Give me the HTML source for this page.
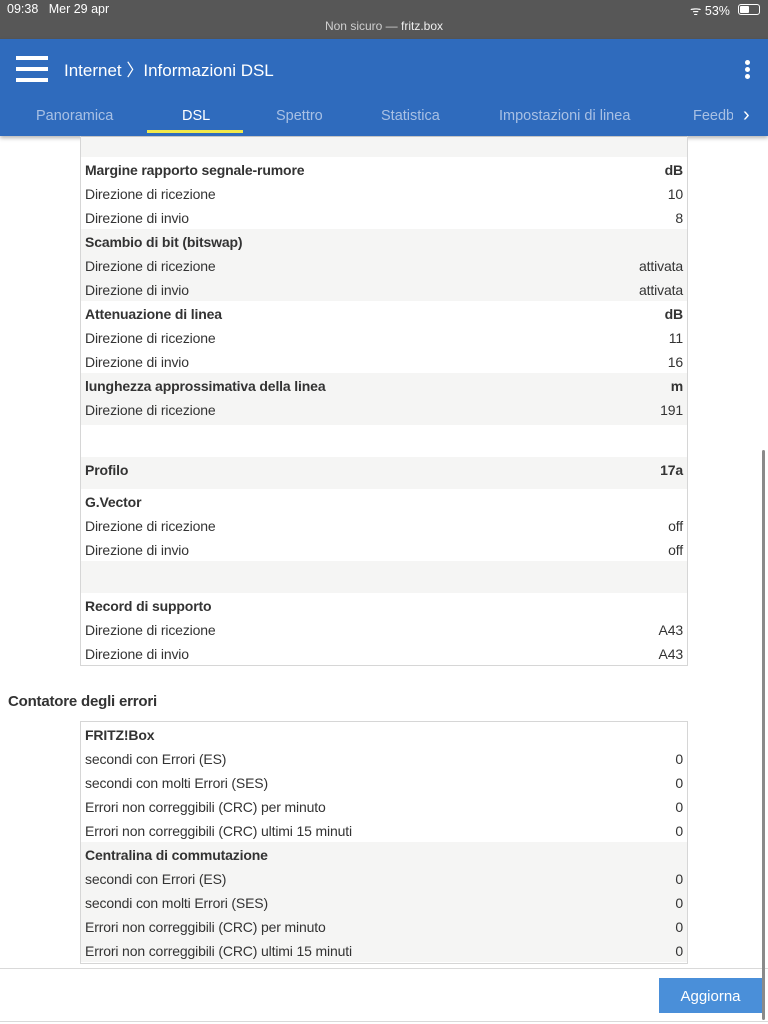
<!DOCTYPE html>
<html><head><meta charset="utf-8"><style>
*{margin:0;padding:0;box-sizing:border-box}
body{width:768px;height:1024px;overflow:hidden;background:#fff;font-family:"Liberation Sans",sans-serif;color:#333;position:relative}
.a{position:absolute}
.bg{position:absolute;left:81px;width:606px;background:#f5f5f4}
.r{position:absolute;left:85px;width:598px;height:24px;line-height:26px;font-size:14px;letter-spacing:-0.15px}
.r span{position:absolute;right:0;top:0}
.b{font-weight:bold}
</style></head><body>
<div class="a" style="left:0;top:0;width:768px;height:39px;background:#575757"></div>
<div class="a" style="left:7px;top:2px;font-size:12.5px;color:#fff">09:38&nbsp;&nbsp; Mer 29 apr</div>
<div class="a" style="left:0;top:19px;width:768px;text-align:center;font-size:12px;color:#cfcfcf">Non sicuro — <span style="color:#eee">fritz.box</span></div>
<div class="a" style="left:690px;top:2px;font-size:12.5px;color:#fff">ᯤ 53%</div>
<div class="a" style="left:738px;top:4px;width:22px;height:11px;border:1px solid #fff;border-radius:3px"><div style="width:9px;height:7px;margin:1px;background:#fff;border-radius:1px"></div></div>
<div class="a" style="left:0;top:39px;width:768px;height:97px;background:#2f6bbd;box-shadow:0 2px 4px rgba(0,0,0,.3)"></div>
<div class="a" style="left:16px;top:56px;width:32px;height:4px;background:#fff"></div>
<div class="a" style="left:16px;top:67px;width:32px;height:4px;background:#fff"></div>
<div class="a" style="left:16px;top:78px;width:32px;height:4px;background:#fff"></div>
<div class="a" style="left:64px;top:56px;font-size:17px;color:#fff">Internet 〉Informazioni DSL</div>
<div class="a" style="left:745px;top:60px;width:5px;height:5px;border-radius:50%;background:#fff"></div>
<div class="a" style="left:745px;top:67px;width:5px;height:5px;border-radius:50%;background:#fff"></div>
<div class="a" style="left:745px;top:74px;width:5px;height:5px;border-radius:50%;background:#fff"></div>
<div class="a" style="top:108px;left:0;width:768px;font-size:14.5px;color:#a8c0e4">
<span class="a" style="left:36px">Panoramica</span>
<span class="a" style="left:182px;color:#fff">DSL</span>
<span class="a" style="left:276px">Spettro</span>
<span class="a" style="left:381px">Statistica</span>
<span class="a" style="left:499px">Impostazioni di linea</span>
<span class="a" style="left:693px;width:40px;overflow:hidden;white-space:nowrap">Feedback</span>
<span class="a" style="left:743px;color:#fff;font-size:20px;top:-4px">›</span>
</div>
<div class="a" style="left:147px;top:130px;width:96px;height:3px;background:#f1e84a"></div>

<div class="a" style="left:80px;top:136px;width:608px;height:530px;border:1px solid #d6d6d6;border-top:none"></div>
<div class="bg" style="top:137px;height:20px"></div>
<div class="bg" style="top:229px;height:72px"></div>
<div class="bg" style="top:373px;height:52px"></div>
<div class="bg" style="top:457px;height:32px"></div>
<div class="bg" style="top:561px;height:32px"></div>
<div class="r b" style="top:157px">Margine rapporto segnale-rumore<span>dB</span></div>
<div class="r" style="top:181px">Direzione di ricezione<span>10</span></div>
<div class="r" style="top:205px">Direzione di invio<span>8</span></div>
<div class="r b" style="top:229px">Scambio di bit (bitswap)</div>
<div class="r" style="top:253px">Direzione di ricezione<span>attivata</span></div>
<div class="r" style="top:277px">Direzione di invio<span>attivata</span></div>
<div class="r b" style="top:301px">Attenuazione di linea<span>dB</span></div>
<div class="r" style="top:325px">Direzione di ricezione<span>11</span></div>
<div class="r" style="top:349px">Direzione di invio<span>16</span></div>
<div class="r b" style="top:373px">lunghezza approssimativa della linea<span>m</span></div>
<div class="r" style="top:397px">Direzione di ricezione<span>191</span></div>
<div class="r b" style="top:457px">Profilo<span>17a</span></div>
<div class="r b" style="top:489px">G.Vector</div>
<div class="r" style="top:513px">Direzione di ricezione<span>off</span></div>
<div class="r" style="top:537px">Direzione di invio<span>off</span></div>
<div class="r b" style="top:593px">Record di supporto</div>
<div class="r" style="top:617px">Direzione di ricezione<span>A43</span></div>
<div class="r" style="top:641px">Direzione di invio<span>A43</span></div>

<div class="a b" style="left:8px;top:693px;font-size:15px;letter-spacing:-0.2px">Contatore degli errori</div>
<div class="a" style="left:80px;top:721px;width:608px;height:243px;border:1px solid #d6d6d6"></div>
<div class="bg" style="top:842px;height:120px"></div>
<div class="r b" style="top:722px">FRITZ!Box</div>
<div class="r" style="top:746px">secondi con Errori (ES)<span>0</span></div>
<div class="r" style="top:770px">secondi con molti Errori (SES)<span>0</span></div>
<div class="r" style="top:794px">Errori non correggibili (CRC) per minuto<span>0</span></div>
<div class="r" style="top:818px">Errori non correggibili (CRC) ultimi 15 minuti<span>0</span></div>
<div class="r b" style="top:842px">Centralina di commutazione</div>
<div class="r" style="top:866px">secondi con Errori (ES)<span>0</span></div>
<div class="r" style="top:890px">secondi con molti Errori (SES)<span>0</span></div>
<div class="r" style="top:914px">Errori non correggibili (CRC) per minuto<span>0</span></div>
<div class="r" style="top:938px">Errori non correggibili (CRC) ultimi 15 minuti<span>0</span></div>

<div class="a" style="left:0;top:968px;width:768px;height:1px;background:#d9d9d9"></div>
<div class="a" style="left:659px;top:978px;width:103px;height:35px;background:#4a8fd9;color:#fff;font-size:15px;line-height:38px;text-align:center">Aggiorna</div>
<div class="a" style="left:0;top:1021px;width:768px;height:1px;background:#d9d9d9"></div>
<div class="a" style="left:762px;top:450px;width:3px;height:570px;background:#8a8a8a;border-radius:2px"></div>
</body></html>
